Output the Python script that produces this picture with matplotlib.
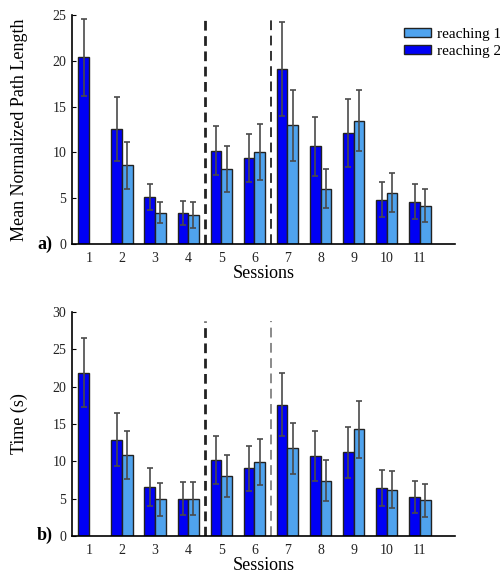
import matplotlib
matplotlib.use("Agg")
import matplotlib as mpl
import matplotlib.pyplot as plt
import numpy as np
from matplotlib.patches import Patch

mpl.rcParams.update({
    "font.family": ["Liberation Serif", "DejaVu Serif"],
    "lines.scale_dashes": False,
})

# ----------------- Data ------------------------------------------------
sessions = [1, 2, 3, 4, 5, 6, 7, 8, 9, 10, 11]

# panel a: mean normalized path length
path_r2 = [20.4, 12.55, 5.1, 3.4, 10.2, 9.4, 19.1, 10.65, 12.1, 4.85, 4.6]
path_r2_err = [4.2, 3.45, 1.4, 1.3, 2.65, 2.65, 5.1, 3.25, 3.75, 1.9, 1.9]
path_r1 = [None, 8.6, 3.4, 3.15, 8.2, 10.0, 12.95, 6.05, 13.45, 5.6, 4.15]
path_r1_err = [None, 2.55, 1.15, 1.45, 2.5, 3.05, 3.85, 2.15, 3.35, 2.15, 1.8]

# panel b: time (s)
time_r2 = [21.9, 12.9, 6.6, 4.95, 10.15, 9.05, 17.6, 10.7, 11.2, 6.4, 5.2]
time_r2_err = [4.6, 3.6, 2.55, 2.2, 3.2, 3.05, 4.2, 3.3, 3.4, 2.45, 2.2]
time_r1 = [None, 10.8, 4.9, 4.95, 8.0, 9.9, 11.75, 7.4, 14.3, 6.2, 4.75]
time_r1_err = [None, 3.2, 2.2, 2.2, 2.8, 3.15, 3.4, 2.7, 3.8, 2.45, 2.25]

C_R1 = "#4fa3ee"
C_R2 = "#0000f5"
W = 0.32


def draw_panel(ax, r2, r2e, r1, r1e, ymax, ylabel, tag, dash_top, second_color):
    x = np.array(sessions, dtype=float)
    err_kw = dict(ecolor="#4a4a4a", elinewidth=1.2, capsize=2.5, capthick=1.2)
    ax.bar(x - W / 2, r2, W, yerr=r2e, color=C_R2, edgecolor="#222222",
           linewidth=1.0, error_kw=err_kw, zorder=2)
    idx = [i for i, v in enumerate(r1) if v is not None]
    ax.bar(x[idx] + W / 2, [r1[i] for i in idx], W,
           yerr=[r1e[i] for i in idx], color=C_R1, edgecolor="#222222",
           linewidth=1.0, error_kw=err_kw, zorder=2)

    ax.vlines(4.5, 0, dash_top, colors="#222222", linewidth=2.0,
              linestyles=[(0, (7, 4))], zorder=1)
    ax.vlines(6.5, 0, dash_top, colors=second_color, linewidth=1.4,
              linestyles=[(0, (7, 4))], zorder=1)

    ax.set_xlim(0.49, 12.06)
    ax.set_ylim(0, ymax)
    ax.set_xticks(sessions)
    ax.set_xticklabels([str(s) for s in sessions])
    ax.set_yticks(np.arange(0, ymax + 1, 5))
    ax.tick_params(axis="x", length=0, labelsize=10, pad=6, labelcolor="#222222")
    ax.tick_params(axis="y", direction="in", length=3, labelsize=10, pad=4,
                   labelcolor="#222222")
    for s in ("top", "right"):
        ax.spines[s].set_visible(False)
    ax.spines["left"].set_linewidth(1.2)
    ax.spines["bottom"].set_linewidth(1.2)
    ax.set_xlabel("Sessions", fontsize=13, labelpad=0)
    ax.set_ylabel(ylabel, fontsize=13, labelpad=18)
    ax.text(-0.05, 0.0, tag, transform=ax.transAxes, fontsize=13,
            fontweight="bold", ha="right", va="center")


fig = plt.figure(figsize=(5.0, 5.78), dpi=100)
ax_a = fig.add_axes([0.144, 0.578, 0.766, 0.396])
ax_b = fig.add_axes([0.144, 0.073, 0.766, 0.387])

draw_panel(ax_a, path_r2, path_r2_err, path_r1, path_r1_err, 25,
           "Mean Normalized Path Length", "a)", 25, "#333333")
draw_panel(ax_b, time_r2, time_r2_err, time_r1, time_r1_err, 30,
           "Time (s)", "b)", 28.8, "#8a8a8a")

handles = [Patch(facecolor=C_R1, edgecolor="#222222", label="reaching 1"),
           Patch(facecolor=C_R2, edgecolor="#222222", label="reaching 2")]
ax_a.legend(handles=handles, loc="upper left", bbox_to_anchor=(0.85, 0.97),
            frameon=False, fontsize=11, handlelength=1.8, handleheight=0.55,
            handletextpad=0.35, labelspacing=0.25, borderaxespad=0)

fig.savefig("out.png", dpi=100)
